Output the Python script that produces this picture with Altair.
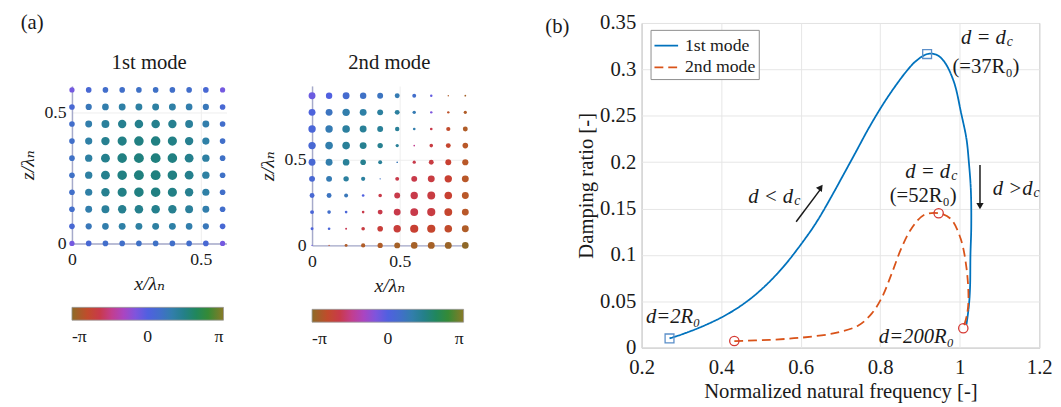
import math
import altair as alt
import pandas as pd

SERIF = "'Liberation Serif', 'Times New Roman', Times, 'DejaVu Serif', serif"
INK = "#1a1a1a"

# ---------------- panel (a): phase colour map ----------------
PHASE_STOPS = [-math.pi, -2.73, -2.32, -1.92, -1.38, -0.82, -0.44, 0.0,
               0.57, 1.07, 1.63, 2.14, 2.58, math.pi]
PHASE_COLORS = ["#8a6a28", "#b85a28", "#c84030", "#c83850", "#c040a0", "#a048d0",
                "#7858e0", "#5060e0", "#4070c8", "#3080a8", "#208080", "#208a50",
                "#3a8a30", "#8a7a28"]
PHASE_TICKS = [-math.pi, 0.0, math.pi]

# 1st mode grid (rows listed from top to bottom)
X_M1 = [0.0, 0.065, 0.13, 0.195, 0.26, 0.325, 0.39, 0.455, 0.52, 0.585]
Z_M1 = [0.585, 0.52, 0.455, 0.39, 0.325, 0.26, 0.195, 0.13, 0.065, 0.0]
D_M1 = [
    [5.3, 5.7, 5.7, 5.7, 5.7, 5.7, 5.7, 5.7, 5.7, 5.3],
    [5.7, 6.3, 6.8, 7.0, 7.0, 7.0, 7.0, 6.8, 6.3, 5.7],
    [5.7, 7.0, 8.0, 8.5, 8.7, 8.7, 8.5, 8.0, 7.0, 5.7],
    [5.7, 7.3, 8.5, 9.3, 9.7, 9.7, 9.3, 8.5, 7.3, 5.7],
    [5.7, 7.5, 9.0, 9.7, 10.0, 10.0, 9.7, 9.0, 7.5, 5.7],
    [5.7, 7.5, 9.0, 9.7, 10.0, 10.0, 9.7, 9.0, 7.5, 5.7],
    [5.7, 7.3, 8.5, 9.3, 9.7, 9.7, 9.3, 8.5, 7.3, 5.7],
    [5.7, 7.0, 8.0, 8.5, 8.7, 8.7, 8.5, 8.0, 7.0, 5.7],
    [5.7, 6.3, 6.8, 7.0, 7.0, 7.0, 7.0, 6.8, 6.3, 5.7],
    [5.3, 5.7, 5.7, 5.7, 5.7, 5.7, 5.7, 5.7, 5.7, 5.3],
]
P_M1 = [
    [-0.4, 0.3, 0.5, 0.55, 0.6, 0.6, 0.55, 0.5, 0.3, -0.4],
    [0.3, 0.8, 1.0, 1.1, 1.15, 1.15, 1.1, 1.0, 0.8, 0.3],
    [0.5, 1.0, 1.25, 1.4, 1.45, 1.45, 1.4, 1.25, 1.0, 0.5],
    [0.55, 1.1, 1.4, 1.55, 1.6, 1.6, 1.55, 1.4, 1.1, 0.55],
    [0.6, 1.15, 1.45, 1.6, 1.65, 1.65, 1.6, 1.45, 1.15, 0.6],
    [0.6, 1.15, 1.45, 1.6, 1.65, 1.65, 1.6, 1.45, 1.15, 0.6],
    [0.55, 1.1, 1.4, 1.55, 1.6, 1.6, 1.55, 1.4, 1.1, 0.55],
    [0.5, 1.0, 1.25, 1.4, 1.45, 1.45, 1.4, 1.25, 1.0, 0.5],
    [0.3, 0.8, 1.0, 1.1, 1.15, 1.15, 1.1, 1.0, 0.8, 0.3],
    [-0.4, 0.3, 0.5, 0.55, 0.6, 0.6, 0.55, 0.5, 0.3, -0.4],
]

# 2nd mode grid (rows listed from top to bottom)
X_M2 = [0.0, 0.097, 0.194, 0.291, 0.388, 0.485, 0.582, 0.679, 0.776, 0.873]
Z_M2 = [0.873, 0.776, 0.679, 0.582, 0.485, 0.388, 0.291, 0.194, 0.097, 0.0]
D_M2 = [
    [7.0, 6.5, 7.0, 6.5, 6.0, 5.0, 4.0, 2.5, 1.5, 1.8],
    [7.0, 7.0, 7.5, 7.0, 6.0, 5.0, 3.5, 2.5, 2.5, 3.3],
    [7.5, 7.5, 7.7, 7.0, 6.0, 4.5, 2.7, 2.7, 4.3, 5.0],
    [7.5, 7.7, 7.7, 7.0, 5.5, 3.3, 1.7, 3.7, 5.0, 5.7],
    [7.0, 7.0, 6.8, 5.7, 4.0, 1.7, 3.3, 5.0, 6.0, 6.3],
    [6.0, 6.0, 5.5, 4.3, 1.5, 4.0, 6.0, 7.0, 7.5, 7.0],
    [5.0, 5.0, 4.0, 2.7, 3.7, 6.0, 7.5, 8.0, 7.7, 7.0],
    [4.0, 3.7, 2.7, 2.7, 5.0, 7.0, 8.0, 8.3, 8.0, 7.0],
    [3.0, 2.7, 2.0, 3.7, 5.7, 7.5, 8.3, 8.3, 7.7, 7.0],
    [1.3, 1.3, 3.0, 4.3, 5.3, 6.0, 6.7, 7.0, 7.0, 6.7],
]
P_M2 = [
    [-0.3, 0.0, 0.4, 0.6, 0.7, 0.9, 0.5, -0.2, -2.8, -2.9],
    [0.1, 0.7, 1.0, 1.1, 1.2, 1.2, 0.9, -0.5, -2.6, -2.8],
    [0.2, 0.9, 1.2, 1.3, 1.3, 1.3, 1.0, -2.0, -2.5, -2.8],
    [0.3, 1.0, 1.3, 1.4, 1.4, 1.3, -1.5, -2.1, -2.4, -2.7],
    [0.3, 1.0, 1.3, 1.4, 1.3, 0.8, -2.0, -2.1, -2.3, -2.7],
    [0.3, 0.9, 1.2, 1.2, 0.6, -2.0, -2.0, -2.1, -2.3, -2.7],
    [0.3, 0.7, 0.8, 0.0, -2.0, -2.0, -2.0, -2.1, -2.3, -2.7],
    [0.2, 0.5, 0.2, -2.0, -2.0, -2.0, -2.0, -2.1, -2.4, -2.7],
    [0.1, 0.2, -1.9, -2.1, -2.2, -2.2, -2.3, -2.4, -2.5, -2.8],
    [-0.3, -2.6, -2.8, -2.8, -2.8, -2.9, -2.9, -2.9, -3.0, -3.1],
]

# ---------------- panel (b): damping ratio vs natural frequency ----------------
MODES = ["1st mode", "2nd mode"]
MODE_COLORS = ["#0072BD", "#D95319"]
F_M1 = [0.270, 0.300, 0.350, 0.400, 0.440, 0.480, 0.520, 0.560, 0.600, 0.630, 0.650,
        0.680, 0.705, 0.740, 0.769, 0.800, 0.829, 0.868, 0.890, 0.918, 0.940, 0.960,
        0.985, 1.004, 1.017, 1.023, 1.028, 1.029, 1.027, 1.026, 1.023, 1.017]
Z_B1 = [0.0100, 0.0142, 0.0225, 0.0325, 0.0425, 0.0550, 0.0705, 0.0890, 0.1110, 0.1290,
        0.1425, 0.1650, 0.1845, 0.2120, 0.2350, 0.2575, 0.2765, 0.2990, 0.3090, 0.3165,
        0.3160, 0.3090, 0.2870, 0.2520, 0.2250, 0.2000, 0.1700, 0.1300, 0.1000, 0.0650,
        0.0450, 0.0250]
F_M2 = [0.433, 0.522, 0.606, 0.688, 0.745, 0.779, 0.804, 0.829, 0.853, 0.878, 0.910,
        0.947, 0.977, 1.002, 1.017, 1.022, 1.018, 1.009]
Z_B2 = [0.0072, 0.0085, 0.0110, 0.0160, 0.0240, 0.0370, 0.0540, 0.0800, 0.1070, 0.1280,
        0.1430, 0.1450, 0.1390, 0.1180, 0.0860, 0.0510, 0.0350, 0.0210]

SQ_F = [0.270, 0.918]
SQ_Z = [0.0100, 0.3165]
CI_F = [0.433, 0.947, 1.009]
CI_Z = [0.0072, 0.1450, 0.0210]

# annotations: "d = d" + subscript c (right aligned main text)
DD_LABEL = ["d = d", "d = d", "d < d", "d >d"]
DD_F = [1.116, 0.976, 0.581, 1.183]
DD_Z = [0.334, 0.189, 0.162, 0.171]
SUB_LABEL = ["c", "c", "c", "c"]
UP_LABEL = ["(=37R₀)", "(=52R₀)"]
UP_F = [1.066, 0.908]
UP_Z = [0.302, 0.1635]
IT_LABEL = ["d=2R₀", "d=200R₀"]
IT_F = [0.279, 0.891]
IT_Z = [0.033, 0.0117]
PANEL_B_LABEL = ["(b)"]
PANEL_B_F = [-0.0426]
PANEL_B_Z = [0.3458]

ARROW_F = [0.5886, 1.051]
ARROW_Z = [0.1358, 0.197]
ARROW_F2 = [0.651, 1.051]
ARROW_Z2 = [0.1715, 0.156]
HEAD_F = [0.6505, 1.051]
HEAD_Z = [0.1728, 0.1527]
HEAD_ANG = [36, 180]


def grid_frame(xs, zs, dia, pha):
    rows = []
    for r, z in enumerate(zs):
        for c, x in enumerate(xs):
            rows.append({"x": x, "z": z, "d": dia[r][c], "phase": pha[r][c]})
    return pd.DataFrame(rows)


def mode_panel(df, title, xdom, zdom, w, h):
    common = dict(labelFont=SERIF, labelFontSize=18, labelColor=INK, titleFont=SERIF,
                  titleFontSize=20, titleFontStyle="italic", titleFontWeight="normal",
                  titleColor=INK, domainColor="#a6aacb", domainWidth=1.5, ticks=False,
                  grid=True, gridColor="#eeeeee", values=[0, 0.5], format="~g",
                  labelFlush=False)
    return (
        alt.Chart(df)
        .transform_calculate(area="datum.d*datum.d")
        .mark_circle(opacity=1)
        .encode(
            x=alt.X("x:Q", scale=alt.Scale(domain=xdom, nice=False, zero=False),
                    axis=alt.Axis(title="x/λₙ", labelPadding=7, titlePadding=6, **common)),
            y=alt.Y("z:Q", scale=alt.Scale(domain=zdom, nice=False, zero=False),
                    axis=alt.Axis(title="z/λₙ", labelPadding=6, titlePadding=7, **common)),
            size=alt.Size("area:Q", scale=None),
            color=alt.Color(
                "phase:Q",
                scale=alt.Scale(domain=PHASE_STOPS, range=PHASE_COLORS, interpolate="rgb"),
                legend=alt.Legend(
                    orient="bottom", direction="horizontal", title=None,
                    gradientLength=154, gradientThickness=13, values=PHASE_TICKS,
                    labelExpr="datum.value < -1 ? '-π' : (datum.value > 1 ? 'π' : '0')",
                    labelFont=SERIF, labelFontSize=18, labelColor=INK, labelAlign="center",
                    labelOffset=8, offset=14, gradientStrokeColor="#999999",
                    gradientStrokeWidth=0.8, labelOverlap=False,
                ),
            ),
        )
        .properties(width=w, height=h,
                    title=alt.TitleParams(title, font=SERIF, fontSize=21, fontWeight="normal",
                                          color=INK, offset=13))
    )


a1 = mode_panel(grid_frame(X_M1, Z_M1, D_M1, P_M1), "1st mode", [0, 0.6], [0, 0.6], 157, 160)
a2 = mode_panel(grid_frame(X_M2, Z_M2, D_M2, P_M2), "2nd mode", [0, 0.88], [0, 0.93], 157, 162)

spacer = (
    alt.Chart(pd.DataFrame({"label": ["(a)"]}))
    .mark_text(font=SERIF, fontSize=21, color=INK, dx=-41, dy=0)
    .encode(text="label:N")
    .properties(width=1, height=1)
)

# ---------------- panel (b) ----------------
b_axis = dict(labelFont=SERIF, labelFontSize=21, labelColor=INK, titleFont=SERIF,
              titleFontSize=21, titleFontWeight="normal", titleColor=INK, grid=True,
              gridColor="#e6e6e6", domain=False, ticks=False, format="~g", labelFlush=False)
XB = alt.X("f:Q", scale=alt.Scale(domain=[0.2, 1.2], nice=False, zero=False),
           axis=alt.Axis(values=[0.2, 0.4, 0.6, 0.8, 1.0, 1.2],
                         title="Normalized natural frequency [-]",
                         labelPadding=9, titlePadding=4, **b_axis))
YB = alt.Y("zeta:Q", scale=alt.Scale(domain=[0, 0.35], nice=False, zero=False),
           axis=alt.Axis(values=[0, 0.05, 0.1, 0.15, 0.2, 0.25, 0.3, 0.35],
                         title="Damping ratio [-]", labelPadding=6, titlePadding=3, **b_axis))

curve_rows = []
for i, (f, z) in enumerate(zip(F_M1, Z_B1)):
    curve_rows.append({"f": f, "zeta": z, "mode": MODES[0], "order": i})
for i, (f, z) in enumerate(zip(F_M2, Z_B2)):
    curve_rows.append({"f": f, "zeta": z, "mode": MODES[1], "order": i})
curve_df = pd.DataFrame(curve_rows)

mode_legend = alt.Legend(
    title=None, orient="none", legendX=9, legendY=7, padding=3, strokeColor="#8c8c8c",
    fillColor="white", cornerRadius=0, labelFont=SERIF, labelFontSize=18,
    labelColor=INK, symbolType="stroke", symbolSize=576, symbolStrokeWidth=1.8,
    rowPadding=0, labelOffset=6,
)

lines = alt.Chart(curve_df).mark_line(strokeWidth=1.8, interpolate="catmull-rom").encode(
    x=XB, y=YB, order="order:Q",
    color=alt.Color("mode:N", scale=alt.Scale(domain=MODES, range=MODE_COLORS), legend=mode_legend),
    strokeDash=alt.StrokeDash("mode:N", scale=alt.Scale(domain=MODES, range=[[1, 0], [9, 5]]),
                              legend=mode_legend),
)

squares = alt.Chart(pd.DataFrame({"f": SQ_F, "zeta": SQ_Z})).mark_point(
    shape="square", filled=False, size=81, strokeWidth=1.3, color="#5b8fc9", opacity=1
).encode(x=XB, y=YB)
circles = alt.Chart(pd.DataFrame({"f": CI_F, "zeta": CI_Z})).mark_point(
    shape="circle", filled=False, size=90, strokeWidth=1.3, color="#d63a34", opacity=1
).encode(x=XB, y=YB)

dd_df = pd.DataFrame({"f": DD_F, "zeta": DD_Z, "label": DD_LABEL, "sub": SUB_LABEL})
t_main = alt.Chart(dd_df).mark_text(font=SERIF, fontSize=21, fontStyle="italic", align="right",
                                    baseline="middle", color=INK).encode(x=XB, y=YB, text="label:N")
t_sub = alt.Chart(dd_df).mark_text(font=SERIF, fontSize=14, fontStyle="italic", align="left",
                                   baseline="middle", dx=1, dy=4, color=INK).encode(x=XB, y=YB, text="sub:N")
t_up = alt.Chart(pd.DataFrame({"f": UP_F, "zeta": UP_Z, "label": UP_LABEL})).mark_text(
    font=SERIF, fontSize=21, align="center", baseline="middle", color=INK
).encode(x=XB, y=YB, text="label:N")
t_it = alt.Chart(pd.DataFrame({"f": IT_F, "zeta": IT_Z, "label": IT_LABEL})).mark_text(
    font=SERIF, fontSize=21, fontStyle="italic", align="center", baseline="middle", color=INK
).encode(x=XB, y=YB, text="label:N")
t_panel = alt.Chart(pd.DataFrame({"f": PANEL_B_F, "zeta": PANEL_B_Z, "label": PANEL_B_LABEL})).mark_text(
    font=SERIF, fontSize=21, align="left", baseline="middle", color=INK
).encode(x=XB, y=YB, text="label:N")

rules = alt.Chart(pd.DataFrame({"f": ARROW_F, "zeta": ARROW_Z, "f2": ARROW_F2, "zeta2": ARROW_Z2})).mark_rule(
    strokeWidth=1.5, color=INK
).encode(x=XB, y=YB, x2="f2:Q", y2="zeta2:Q")
heads = alt.Chart(pd.DataFrame({"f": HEAD_F, "zeta": HEAD_Z, "ang": HEAD_ANG})).mark_point(
    shape="triangle-up", filled=True, size=55, color=INK, opacity=1
).encode(x=XB, y=YB, angle=alt.Angle("ang:Q", scale=None))

b = alt.layer(lines, squares, circles, t_main, t_sub, t_up, t_it, t_panel, rules, heads).properties(
    width=404, height=330,
    view=alt.ViewBackground(stroke="#9a9a9a", strokeWidth=1),
)

inner = alt.hconcat(a1, a2, spacing=31).resolve_scale(
    x="independent", y="independent", color="independent")
left = alt.vconcat(spacer, inner, spacing=19).resolve_scale(
    x="independent", y="independent", color="independent")
chart = (
    alt.hconcat(left, b, spacing=76)
    .resolve_scale(x="independent", y="independent", color="independent",
                   strokeDash="independent", size="independent")
    .properties(padding={"left": 9, "top": 0, "right": 0, "bottom": 0})
    .configure_view(stroke=None)
)

chart.save("out.html", embed_options={"renderer": "svg", "actions": False})
